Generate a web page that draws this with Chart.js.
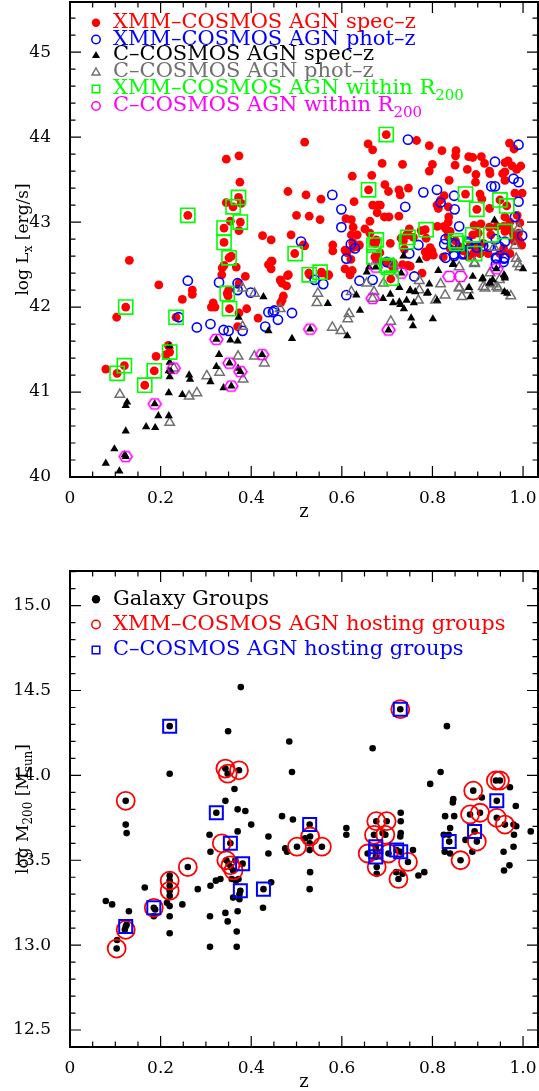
<!DOCTYPE html>
<html>
<head>
<meta charset="utf-8">
<script src="https://cdn.jsdelivr.net/npm/chart.js@4.4.1/dist/chart.umd.min.js"></script>
<style>
  body { margin: 0; background: #fff; }
  .box { position: relative; width: 539px; }
</style>
</head>
<body>
<div class="box" style="height:545px"><canvas id="lxChart"></canvas></div>
<div class="box" style="height:546px"><canvas id="massChart"></canvas></div>
<script>
// ---- top panel: [z, log Lx] ----
const xmmSpecZ = [
  [0.079,41.27],[0.103,41.88],[0.104,41.22],[0.12,41.31],[0.123,42.0],[0.131,42.55],[0.165,41.08],
  [0.186,41.25],[0.19,41.42],[0.196,42.26],[0.217,41.55],[0.212,41.44],[0.22,41.47],[0.234,41.88],
  [0.248,42.09],[0.26,43.08],[0.27,42.2],[0.27,42.15],[0.312,42.0],[0.316,42.05],[0.32,42.0],
  [0.335,42.38],[0.336,42.46],[0.34,42.49],[0.34,42.76],[0.34,42.93],[0.345,43.74],[0.345,43.23],
  [0.347,42.16],[0.349,42.13],[0.35,42.2],[0.351,42.58],[0.356,42.6],[0.352,41.98],[0.354,43.01],
  [0.36,43.18],[0.367,42.47],[0.37,41.77],[0.372,43.29],[0.373,43.78],[0.373,42.9],[0.373,42.28],
  [0.373,41.93],[0.375,43.47],[0.376,43.0],[0.378,43.22],[0.387,42.36],[0.39,41.98],[0.415,41.87],
  [0.425,42.84],[0.438,42.5],[0.444,42.79],[0.444,42.54],[0.444,42.45],[0.446,42.54],[0.465,42.31],
  [0.465,42.05],[0.464,42.32],[0.468,42.28],[0.471,42.13],[0.468,42.08],[0.478,42.25],[0.48,42.37],
  [0.481,43.36],[0.482,42.38],[0.488,42.85],[0.496,42.63],[0.5,43.08],[0.515,42.73],[0.518,43.94],
  [0.518,42.72],[0.521,43.32],[0.527,42.4],[0.528,43.07],[0.529,42.38],[0.552,43.03],[0.554,43.27],
  [0.555,42.41],[0.556,42.4],[0.57,42.37],[0.571,42.38],[0.58,42.73],[0.58,42.66],[0.607,42.45],
  [0.607,42.67],[0.609,43.04],[0.611,42.64],[0.618,42.38],[0.62,42.56],[0.621,42.85],[0.621,43.03],
  [0.623,43.54],[0.623,42.43],[0.624,42.7],[0.624,42.76],[0.625,42.94],[0.627,43.24],[0.634,42.85],
  [0.634,42.71],[0.639,42.73],[0.651,42.92],[0.658,43.92],[0.659,43.38],[0.662,42.87],[0.662,43.01],
  [0.666,43.55],[0.668,43.85],[0.668,43.2],[0.67,42.76],[0.673,42.59],[0.674,42.75],[0.676,42.79],
  [0.677,42.55],[0.678,43.11],[0.68,43.2],[0.685,43.2],[0.684,42.64],[0.689,43.69],[0.694,43.06],
  [0.695,43.44],[0.698,44.03],[0.699,42.52],[0.703,43.36],[0.704,43.06],[0.707,42.75],[0.707,42.5],
  [0.708,42.33],[0.714,42.52],[0.714,42.45],[0.726,43.38],[0.726,43.07],[0.729,43.32],[0.734,42.5],
  [0.731,42.81],[0.734,43.68],[0.736,42.78],[0.738,42.68],[0.743,42.85],[0.746,42.49],[0.746,42.85],
  [0.747,43.4],[0.749,42.92],[0.751,42.48],[0.758,42.82],[0.765,43.96],[0.775,42.9],[0.777,42.4],
  [0.784,42.91],[0.784,42.65],[0.786,42.81],[0.787,42.59],[0.793,43.9],[0.793,43.6],[0.795,42.7],
  [0.799,42.66],[0.8,43.68],[0.802,42.61],[0.81,43.2],[0.811,42.95],[0.813,43.16],[0.818,43.26],
  [0.821,43.84],[0.824,42.59],[0.826,43.31],[0.826,42.95],[0.83,42.92],[0.834,42.84],[0.835,43.18],
  [0.835,43.0],[0.836,43.06],[0.837,43.49],[0.839,42.89],[0.839,42.69],[0.85,43.67],[0.851,42.78],
  [0.851,43.78],[0.852,43.84],[0.859,42.71],[0.868,42.66],[0.873,43.33],[0.877,43.62],[0.879,42.59],
  [0.88,43.77],[0.883,42.73],[0.889,43.76],[0.889,42.85],[0.89,42.63],[0.892,42.96],[0.895,43.47],
  [0.896,43.56],[0.898,43.15],[0.898,42.71],[0.901,42.87],[0.905,43.33],[0.905,42.63],[0.907,42.98],
  [0.908,43.77],[0.909,43.27],[0.912,42.75],[0.915,43.69],[0.923,42.63],[0.926,43.6],[0.926,43.16],
  [0.926,42.94],[0.927,43.57],[0.929,42.85],[0.942,42.95],[0.949,43.26],[0.949,42.63],[0.955,43.57],
  [0.957,42.95],[0.957,42.69],[0.96,43.7],[0.96,43.59],[0.96,43.49],[0.96,43.06],[0.96,42.89],
  [0.964,43.19],[0.967,43.72],[0.97,43.93],[0.97,42.91],[0.971,43.0],[0.971,42.63],[0.976,43.66],
  [0.979,42.85],[0.98,43.86],[0.98,42.78],[0.982,43.34],[0.986,43.62],[0.987,43.08],[0.99,42.87],
  [0.992,42.78],[0.993,42.99],[0.995,43.66],[0.997,42.73],[0.998,43.34]
];
const xmmPhotZ = [
  [0.24,41.88],[0.26,42.31],[0.28,41.76],[0.31,41.8],[0.329,42.29],[0.339,41.73],[0.35,41.72],
  [0.37,42.28],[0.37,42.2],[0.381,41.72],[0.399,42.17],[0.431,41.77],[0.438,41.94],[0.448,41.94],
  [0.451,41.96],[0.459,41.85],[0.49,41.93],[0.51,42.77],[0.54,42.32],[0.559,42.27],[0.579,43.32],
  [0.599,43.15],[0.599,42.94],[0.61,42.57],[0.61,42.14],[0.62,42.74],[0.629,42.69],[0.639,42.31],
  [0.668,42.32],[0.699,42.53],[0.74,43.18],[0.746,43.97],[0.749,42.63],[0.76,42.36],[0.769,42.73],
  [0.78,43.35],[0.81,43.38],[0.818,43.23],[0.826,42.74],[0.829,42.8],[0.829,42.58],[0.843,42.75],
  [0.847,42.62],[0.848,43.31],[0.849,43.15],[0.848,42.6],[0.85,42.74],[0.859,42.95],[0.867,42.62],
  [0.87,42.63],[0.877,42.77],[0.878,42.75],[0.898,42.7],[0.912,42.72],[0.925,42.71],[0.93,43.42],
  [0.938,43.42],[0.938,43.71],[0.94,42.8],[0.94,42.58],[0.94,42.5],[0.942,42.57],[0.948,42.71],
  [0.957,42.53],[0.958,42.57],[0.959,42.58],[0.96,42.77],[0.979,43.51],[0.982,43.06],[0.99,43.91],
  [0.99,43.47],[0.99,43.24],[0.998,42.84]
];
const ccosmosSpecZ = [
  [0.079,40.16],[0.098,40.33],[0.109,40.07],[0.123,40.24],[0.121,40.26],[0.123,40.54],[0.126,40.88],
  [0.123,40.84],[0.168,40.59],[0.187,40.86],[0.188,40.58],[0.195,40.72],[0.218,40.99],[0.218,40.72],
  [0.22,41.54],[0.22,41.35],[0.22,41.18],[0.223,41.24],[0.218,41.25],[0.248,40.97],[0.263,41.2],
  [0.265,41.15],[0.31,41.12],[0.323,41.62],[0.329,41.44],[0.323,41.3],[0.339,41.05],[0.354,41.61],
  [0.352,41.34],[0.356,41.07],[0.37,41.6],[0.372,41.88],[0.371,41.28],[0.376,41.24],[0.424,41.44],
  [0.427,42.12],[0.438,41.72],[0.49,41.63],[0.53,41.74],[0.569,42.04],[0.612,41.66],[0.632,42.14],
  [0.64,41.96],[0.655,42.41],[0.66,42.47],[0.675,42.47],[0.691,42.1],[0.703,41.73],[0.707,42.15],
  [0.713,42.05],[0.727,42.06],[0.729,42.03],[0.727,42.23],[0.731,42.4],[0.736,42.6],[0.737,41.98],
  [0.743,42.08],[0.75,42.19],[0.751,42.2],[0.753,41.87],[0.757,41.78],[0.759,42.05],[0.762,42.18],
  [0.771,42.55],[0.788,42.16],[0.79,42.17],[0.793,42.27],[0.801,41.86],[0.81,42.08],[0.813,42.43],
  [0.845,42.5],[0.846,42.51],[0.881,42.23],[0.884,42.12],[0.889,42.36],[0.91,42.33],[0.911,42.34],
  [0.927,42.28],[0.927,42.29],[0.933,42.32],[0.937,43.02],[0.941,42.45],[0.958,42.38],[0.96,42.34],
  [0.96,42.36],[0.959,42.18],[0.965,42.16],[1.0,42.45]
];
const ccosmosPhotZ = [
  [0.11,40.97],[0.22,40.64],[0.229,41.28],[0.263,40.95],[0.28,40.99],[0.302,41.19],[0.33,41.23],
  [0.371,41.42],[0.382,41.15],[0.381,41.77],[0.381,42.22],[0.407,42.16],[0.407,41.42],[0.429,41.34],
  [0.464,41.98],[0.547,42.16],[0.545,42.05],[0.579,41.76],[0.598,41.72],[0.616,41.92],[0.613,41.86],
  [0.621,42.18],[0.655,42.28],[0.668,42.1],[0.671,42.18],[0.692,42.28],[0.708,41.83],[0.714,42.51],
  [0.771,42.31],[0.769,42.08],[0.771,42.2],[0.807,42.08],[0.818,42.27],[0.828,42.14],[0.859,42.47],
  [0.859,42.23],[0.859,42.22],[0.865,42.12],[0.879,42.2],[0.893,42.52],[0.893,42.51],[0.912,42.24],
  [0.916,42.22],[0.927,42.4],[0.934,42.27],[0.936,42.7],[0.942,42.24],[0.945,42.22],[0.948,42.32],
  [0.973,42.13],[0.982,42.72],[0.985,42.57],[0.988,42.51],[0.99,42.93],[0.993,42.47]
];
const xmmInR200 = [
  [0.104,41.22],[0.12,41.31],[0.123,42.0],[0.165,41.08],[0.186,41.25],[0.22,41.47],[0.234,41.88],
  [0.26,43.08],[0.34,42.93],[0.34,42.76],[0.351,42.58],[0.36,43.18],[0.372,43.29],[0.376,43.0],
  [0.347,42.16],[0.352,41.98],[0.497,42.63],[0.528,42.38],[0.552,42.41],[0.659,43.38],[0.698,44.03],
  [0.671,42.73],[0.671,42.59],[0.676,42.79],[0.699,42.49],[0.703,42.47],[0.709,42.34],[0.743,42.77],
  [0.746,42.82],[0.786,42.91],[0.851,42.78],[0.854,42.75],[0.873,43.33],[0.889,42.85],[0.893,42.63],
  [0.898,43.15],[0.929,42.85],[0.949,43.26],[0.96,42.89],[0.964,43.19]
];
const ccosmosInR200 = [
  [0.123,40.24],[0.187,40.86],[0.229,41.28],[0.323,41.62],[0.352,41.34],[0.356,41.07],[0.376,41.24],
  [0.424,41.44],[0.53,41.74],[0.668,42.1],[0.675,42.47],[0.703,41.73],[0.731,42.4],[0.837,42.36],
  [0.862,42.36],[0.941,42.45]
];

// ---- bottom panel: [z, log M200] ----
const galaxyGroups = [
  [0.079,13.26],[0.093,13.24],[0.103,12.98],[0.104,13.03],[0.123,13.11],[0.121,13.09],[0.125,13.12],
  [0.13,13.2],[0.123,13.71],[0.125,13.66],[0.123,13.85],[0.165,13.34],[0.185,13.22],[0.188,13.21],
  [0.185,13.17],[0.22,14.29],[0.22,14.01],[0.22,13.41],[0.22,13.38],[0.22,13.35],[0.22,13.32],
  [0.22,13.29],[0.214,13.25],[0.22,13.23],[0.22,13.17],[0.22,13.07],[0.248,13.24],[0.26,13.46],
  [0.282,13.33],[0.308,13.65],[0.31,13.55],[0.31,13.35],[0.309,13.17],[0.309,12.99],[0.323,13.78],
  [0.322,13.38],[0.332,13.39],[0.343,14.04],[0.348,14.01],[0.373,14.03],[0.349,14.26],[0.377,14.52],
  [0.363,13.92],[0.343,13.85],[0.354,13.6],[0.345,13.5],[0.35,13.48],[0.355,13.46],[0.36,13.44],
  [0.365,13.5],[0.381,13.48],[0.376,13.32],[0.374,13.3],[0.343,13.19],[0.348,13.14],[0.37,13.8],
  [0.387,13.79],[0.37,13.67],[0.4,13.71],[0.368,13.08],[0.368,12.99],[0.37,13.2],[0.36,13.28],
  [0.374,13.27],[0.357,13.39],[0.366,13.38],[0.372,13.39],[0.427,13.33],[0.426,13.22],[0.438,13.64],
  [0.438,13.54],[0.444,13.37],[0.468,13.76],[0.492,13.74],[0.475,13.57],[0.479,13.55],[0.501,13.58],
  [0.529,13.71],[0.53,13.64],[0.519,13.63],[0.529,13.6],[0.529,13.56],[0.556,13.58],[0.53,13.43],
  [0.529,13.33],[0.484,14.2],[0.49,14.02],[0.61,13.69],[0.61,13.65],[0.668,14.16],[0.729,14.39],
  [0.676,13.73],[0.699,13.73],[0.671,13.65],[0.696,13.65],[0.69,13.66],[0.675,13.58],[0.675,13.56],
  [0.675,13.52],[0.657,13.54],[0.703,13.54],[0.677,13.46],[0.677,13.42],[0.721,13.56],[0.73,13.55],
  [0.746,13.49],[0.725,13.39],[0.73,13.78],[0.73,13.73],[0.73,13.66],[0.729,13.64],[0.757,13.56],
  [0.769,13.41],[0.782,13.43],[0.72,13.43],[0.734,13.42],[0.795,13.95],[0.818,14.02],[0.832,14.29],
  [0.828,13.76],[0.848,13.76],[0.839,13.69],[0.825,13.65],[0.836,13.65],[0.837,13.61],[0.827,13.55],
  [0.839,13.54],[0.862,13.5],[0.846,13.86],[0.845,13.84],[0.893,13.67],[0.898,13.61],[0.883,13.77],
  [0.905,13.78],[0.89,13.91],[0.909,13.87],[0.873,13.62],[0.888,13.55],[0.94,13.97],[0.949,13.97],
  [0.942,13.85],[0.971,13.93],[0.984,13.82],[0.942,13.75],[0.96,13.71],[0.979,13.71],[0.985,13.7],
  [0.98,13.65],[0.979,13.58],[1.017,13.67],[0.957,13.55],[0.97,13.47],[0.958,13.44]
];
const xmmHosts = [
  [0.103,12.98],[0.123,13.09],[0.123,13.85],[0.185,13.22],[0.22,13.38],[0.22,13.32],[0.26,13.46],
  [0.335,13.6],[0.345,13.5],[0.354,13.47],[0.361,13.44],[0.343,14.04],[0.348,14.01],[0.373,14.03],
  [0.501,13.58],[0.53,13.64],[0.556,13.58],[0.676,13.73],[0.699,13.73],[0.671,13.65],[0.696,13.65],
  [0.657,13.54],[0.703,13.54],[0.677,13.46],[0.746,13.49],[0.725,13.39],[0.729,14.39],[0.862,13.5],
  [0.898,13.61],[0.883,13.77],[0.905,13.78],[0.89,13.91],[0.94,13.97],[0.949,13.97],[0.942,13.75],
  [0.96,13.71]
];
const ccosmosHosts = [
  [0.123,13.11],[0.185,13.22],[0.22,14.29],[0.323,13.78],[0.354,13.6],[0.381,13.48],[0.376,13.32],
  [0.427,13.33],[0.529,13.71],[0.675,13.58],[0.675,13.55],[0.675,13.52],[0.721,13.56],[0.73,13.55],
  [0.729,14.39],[0.837,13.61],[0.893,13.67],[0.942,13.85]
];

const zTicks = [0, 0.2, 0.4, 0.6, 0.8, 1];
const lxTicks = [40, 41, 42, 43, 44, 45];
const massTicks = [12.5, 13, 13.5, 14, 14.5, 15];

const FONT = '"DejaVu Serif", serif';
const GRAY = '#707070';
const DASH = '\u2013';

function pts(arr) { return arr.map(p => ({x: p[0], y: p[1]})); }

function hexagon(size, color) {
  const c = document.createElement('canvas');
  c.width = size + 4; c.height = size + 4;
  const g = c.getContext('2d');
  g.strokeStyle = color; g.lineWidth = 1.6;
  g.beginPath();
  for (let k = 0; k < 6; k++) {
    const a = Math.PI / 3 * k;
    const px = c.width / 2 + size / 2 * Math.cos(a);
    const py = c.height / 2 + size / 2 * 0.88 * Math.sin(a);
    k ? g.lineTo(px, py) : g.moveTo(px, py);
  }
  g.closePath(); g.stroke();
  return c;
}

// text in pieces: [text, size, dy]
function richText(ctx, parts, x, y, align, color) {
  let total = 0;
  parts.forEach(p => { ctx.font = p[1] + 'px ' + FONT; total += ctx.measureText(p[0]).width; });
  let cx = align === 'center' ? x - total / 2 : x;
  ctx.fillStyle = color;
  ctx.textAlign = 'left';
  ctx.textBaseline = 'middle';
  parts.forEach(p => {
    ctx.font = p[1] + 'px ' + FONT;
    ctx.fillText(p[0], cx, y + (p[2] || 0));
    cx += ctx.measureText(p[0]).width;
  });
}

function legendSymbol(ctx, kind, color, x, y) {
  ctx.save();
  ctx.fillStyle = color; ctx.strokeStyle = color; ctx.lineWidth = 1.5;
  ctx.beginPath();
  if (kind === 'dot') { ctx.arc(x, y, 4.2, 0, 2 * Math.PI); ctx.fill(); }
  else if (kind === 'ring') { ctx.arc(x, y, 4.2, 0, 2 * Math.PI); ctx.stroke(); }
  else if (kind === 'tri' || kind === 'otri') {
    ctx.moveTo(x, y - 4); ctx.lineTo(x + 4, y + 3); ctx.lineTo(x - 4, y + 3); ctx.closePath();
    kind === 'tri' ? ctx.fill() : ctx.stroke();
  }
  else if (kind === 'box') { ctx.rect(x - 3.8, y - 3.8, 7.6, 7.6); ctx.stroke(); }
  ctx.restore();
}

const panelPlugin = {
  id: 'panel',
  afterDraw(chart, args, o) {
    const {ctx, chartArea: a, scales: {x, y}} = chart;
    ctx.save();
    // inward ticks on all four sides
    ctx.strokeStyle = '#000';
    ctx.lineWidth = 1.2;
    ctx.beginPath();
    for (let i = 0; i * 0.05 <= x.max + 1e-9; i++) {
      const px = x.getPixelForValue(i * 0.05);
      const len = i % 4 === 0 ? 11 : 5.5;
      ctx.moveTo(px, a.bottom); ctx.lineTo(px, a.bottom - len);
      ctx.moveTo(px, a.top); ctx.lineTo(px, a.top + len);
    }
    const n0 = Math.ceil(y.min / o.yMinor - 1e-9);
    for (let i = n0; i * o.yMinor <= y.max + 1e-9; i++) {
      const py = y.getPixelForValue(i * o.yMinor);
      const len = i % o.yEvery === 0 ? 11 : 5.5;
      ctx.moveTo(a.left, py); ctx.lineTo(a.left + len, py);
      ctx.moveTo(a.right, py); ctx.lineTo(a.right - len, py);
    }
    ctx.stroke();
    ctx.lineWidth = 2;
    ctx.strokeRect(a.left, a.top, a.right - a.left, a.bottom - a.top);

    // legend
    o.legend.forEach((it, k) => {
      const ly = o.legendY[k];
      legendSymbol(ctx, it.sym, it.color, 96, ly);
      richText(ctx, it.parts, 113, ly, 'left', it.color);
    });

    // axis titles
    richText(ctx, [['z', 18]], (a.left + a.right) / 2, o.zTitleY, 'center', '#000');
    ctx.translate(24, (a.top + a.bottom) / 2);
    ctx.rotate(-Math.PI / 2);
    richText(ctx, o.yTitle, 0, 0, 'center', '#000');
    ctx.restore();
  }
};

function noPad(s) { s.paddingTop = 0; s.paddingBottom = 0; s.paddingLeft = 0; s.paddingRight = 0; }

function baseScales(yMin, yMax, yTicks) {
  const tickFont = {family: FONT, size: 17};
  return {
    x: {
      type: 'linear', min: 0, max: 1.033,
      grid: {display: false}, border: {display: false},
      ticks: {font: tickFont, color: '#000', padding: 3, maxRotation: 0},
      afterBuildTicks: s => { s.ticks = zTicks.map(v => ({value: v})); },
      afterFit: s => { s.height = s.chart.height - s.chart.options.plotBottom; noPad(s); }
    },
    y: {
      type: 'linear', min: yMin, max: yMax,
      grid: {display: false}, border: {display: false},
      ticks: {font: tickFont, color: '#000', padding: 11},
      afterBuildTicks: s => { s.ticks = yTicks.map(v => ({value: v})); },
      afterFit: s => { s.width = 70; noPad(s); }
    }
  };
}

const hexMark = hexagon(13, '#ff00ff');

new Chart(document.getElementById('lxChart'), {
  type: 'scatter',
  data: {
    datasets: [
      {label: 'XMM-COSMOS AGN within R200', data: pts(xmmInR200), order: 1,
       pointStyle: 'rect', pointRadius: 10, backgroundColor: 'rgba(0,0,0,0)', borderColor: '#00ff00', borderWidth: 1.6},
      {label: 'C-COSMOS AGN within R200', data: pts(ccosmosInR200), order: 2,
       pointStyle: hexMark, pointRadius: 7},
      {label: 'C-COSMOS AGN spec-z', data: pts(ccosmosSpecZ), order: 3,
       pointStyle: 'triangle', pointRadius: 4.8, backgroundColor: '#000', borderColor: '#000', borderWidth: 0},
      {label: 'C-COSMOS AGN phot-z', data: pts(ccosmosPhotZ), order: 4,
       pointStyle: 'triangle', pointRadius: 5.5, backgroundColor: 'rgba(0,0,0,0)', borderColor: GRAY, borderWidth: 1.5},
      {label: 'XMM-COSMOS AGN phot-z', data: pts(xmmPhotZ), order: 5,
       pointStyle: 'circle', pointRadius: 4.6, backgroundColor: 'rgba(0,0,0,0)', borderColor: '#0000ff', borderWidth: 1.6},
      {label: 'XMM-COSMOS AGN spec-z', data: pts(xmmSpecZ), order: 6,
       pointStyle: 'circle', pointRadius: 4.4, backgroundColor: '#ff0000', borderWidth: 0}
    ]
  },
  options: {
    responsive: true, maintainAspectRatio: false, animation: false, events: [],
    plotBottom: 477,
    layout: {autoPadding: false, padding: {top: 2, right: 1, left: 0, bottom: 0}},
    scales: baseScales(40, 45.59, lxTicks),
    plugins: {
      legend: {display: false}, tooltip: {enabled: false},
      panel: {
        yMinor: 0.2, yEvery: 5, zTitleY: 512,
        yTitle: [['log L', 17], ['x', 12, 5], [' [erg/s]', 17]],
        legendY: [22.7, 39.5, 55, 72, 89, 106],
        legend: [
          {sym: 'dot', color: '#ff0000', parts: [['XMM' + DASH + 'COSMOS AGN spec' + DASH + 'z', 21]]},
          {sym: 'ring', color: '#0000ff', parts: [['XMM' + DASH + 'COSMOS AGN phot' + DASH + 'z', 21]]},
          {sym: 'tri', color: '#000', parts: [['C' + DASH + 'COSMOS AGN spec' + DASH + 'z', 21]]},
          {sym: 'otri', color: GRAY, parts: [['C' + DASH + 'COSMOS AGN phot' + DASH + 'z', 21]]},
          {sym: 'box', color: '#00ff00', parts: [['XMM' + DASH + 'COSMOS AGN within R', 21], ['200', 15, 7]]},
          {sym: 'ring', color: '#ff00ff', parts: [['C' + DASH + 'COSMOS AGN within R', 21], ['200', 15, 7]]}
        ]
      }
    }
  },
  plugins: [panelPlugin]
});

new Chart(document.getElementById('massChart'), {
  type: 'scatter',
  data: {
    datasets: [
      {label: 'C-COSMOS AGN hosting groups', data: pts(ccosmosHosts), order: 1,
       pointStyle: 'rect', pointRadius: 9.2, backgroundColor: 'rgba(0,0,0,0)', borderColor: '#0000ff', borderWidth: 2},
      {label: 'XMM-COSMOS AGN hosting groups', data: pts(xmmHosts), order: 2,
       pointStyle: 'circle', pointRadius: 9, backgroundColor: 'rgba(0,0,0,0)', borderColor: '#ff0000', borderWidth: 1.8},
      {label: 'Galaxy Groups', data: pts(galaxyGroups), order: 3,
       pointStyle: 'circle', pointRadius: 3.3, backgroundColor: '#000', borderWidth: 0}
    ]
  },
  options: {
    responsive: true, maintainAspectRatio: false, animation: false, events: [],
    plotBottom: 502,
    layout: {autoPadding: false, padding: {top: 26, right: 1, left: 0, bottom: 0}},
    scales: baseScales(12.4, 15.204, massTicks),
    plugins: {
      legend: {display: false}, tooltip: {enabled: false},
      panel: {
        yMinor: 0.1, yEvery: 5, zTitleY: 537,
        yTitle: [['log M', 17], ['200', 12, 5], [' [M', 17], ['sun', 12, 5], [']', 17]],
        legendY: [54.3, 79.5, 105],
        legend: [
          {sym: 'dot', color: '#000', parts: [['Galaxy Groups', 21]]},
          {sym: 'ring', color: '#ff0000', parts: [['XMM' + DASH + 'COSMOS AGN hosting groups', 21]]},
          {sym: 'box', color: '#0000ff', parts: [['C' + DASH + 'COSMOS AGN hosting groups', 21]]}
        ]
      }
    }
  },
  plugins: [panelPlugin]
});
</script>
</body>
</html>
